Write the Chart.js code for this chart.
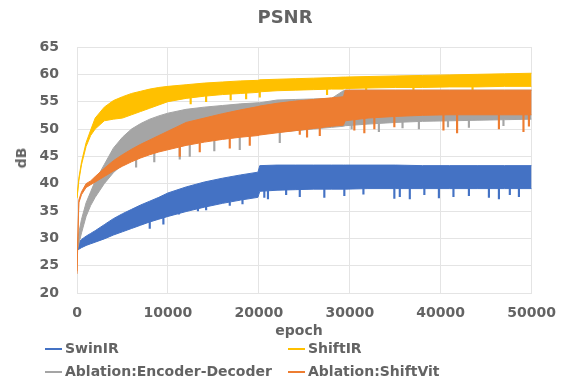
<!DOCTYPE html>
<html>
<head>
<meta charset="utf-8">
<script src="https://cdn.jsdelivr.net/npm/chart.js@4.4.1/dist/chart.umd.min.js"></script>
<style>
  body { margin: 0; background: #fff; }
  #wrap { position: relative; width: 568px; height: 385px; }
  .txt { position: absolute; font: bold 14px "DejaVu Sans", sans-serif; color: #636363; white-space: nowrap; line-height: 16px; }
  .leg span { display: inline-block; width: 17px; height: 1.5px; vertical-align: middle; margin-right: 3px; }
</style>
</head>
<body>
<div id="wrap">
  <canvas id="grafico" width="568" height="385"></canvas>
  <div class="txt" style="left:0; width:568px; top:7px; text-align:center; font-size:18px; line-height:20px; padding-left:2px; box-sizing:border-box">PSNR</div>
  <div class="txt" style="left:21px; top:158px; transform: translate(-50%,-50%) rotate(-90deg)">dB</div>
  <div class="txt" style="left:299px; top:330px; transform: translate(-50%,-50%)">epoch</div>
  <div class="txt leg" style="left:45px; top:340px"><span style="background:#4472C4"></span>SwinIR</div>
  <div class="txt leg" style="left:288px; top:340px"><span style="background:#FFC000"></span>ShiftIR</div>
  <div class="txt leg" style="left:45px; top:363px"><span style="background:#A5A5A5"></span>Ablation:Encoder-Decoder</div>
  <div class="txt leg" style="left:288px; top:363px"><span style="background:#ED7D31"></span>Ablation:ShiftVit</div>
</div>
<script>
// dados
let epocas = [0, 200, 500, 1000, 1500, 2000, 3000, 4000, 5000, 6000, 7000, 8000, 9000, 10000,
  12000, 14000, 16000, 18000, 19900, 20100, 22000, 24000, 26000, 28000, 29300, 29500,
  32000, 35000, 38000, 41000, 44000, 47000, 50000];

// SwinIR
let swinAlto = [28.5, 29.3, 29.8, 30.4, 30.9, 31.4, 32.5, 33.6, 34.5, 35.3, 36.1, 36.8, 37.5, 38.3,
  39.4, 40.3, 41, 41.6, 42.1, 43.3, 43.4, 43.4, 43.4, 43.4, 43.4, 43.4,
  43.4, 43.4, 43.3, 43.3, 43.3, 43.3, 43.3];
let swinBaixo = [27.8, 28, 28.3, 28.7, 29, 29.3, 29.9, 30.6, 31.2, 31.8, 32.4, 33, 33.5, 34,
  34.9, 35.7, 36.4, 37, 37.5, 38.6, 38.8, 38.9, 39, 39, 39, 39,
  39.1, 39.1, 39.1, 39.1, 39.1, 39.1, 39.1];
let swinPicos = [[8000, 31.8, 33], [9500, 32.6, 33.8], [11200, 34.4, 34.6], [13300, 35, 35.6], [14200, 35.2, 35.8],
  [16800, 36, 36.6], [18200, 36.3, 37.1], [20600, 37.5, 38.7], [21000, 37.2, 38.7], [23000, 38, 38.9],
  [24500, 37.6, 38.9], [27200, 37.5, 39], [29400, 37.8, 39], [31500, 38.1, 39.1], [34900, 37.3, 39.1],
  [35500, 37.6, 39.1], [36600, 37.2, 39.1], [38200, 38, 39.1], [39800, 37.4, 39.1], [41400, 37.6, 39.1],
  [43100, 37.8, 39.1], [45300, 37.5, 39.1], [46400, 37.2, 39.1], [47600, 38, 39.1], [48600, 37.6, 39.1]];

// ShiftIR
let shiftAlto = [37.5, 41, 44, 47.5, 49.8, 52, 54, 55.2, 55.9, 56.5, 56.9, 57.3, 57.6, 57.8,
  58.1, 58.4, 58.6, 58.8, 58.9, 59, 59.1, 59.2, 59.3, 59.4, 59.5, 59.5,
  59.6, 59.7, 59.8, 59.9, 60, 60.1, 60.2];
let shiftBaixo = [37.3, 40.5, 43.5, 46.8, 48.8, 50, 51.5, 51.8, 52, 52.6, 53.2, 53.8, 54.4, 55,
  55.6, 56, 56.3, 56.5, 56.7, 56.8, 57, 57.1, 57.2, 57.3, 57.3, 57.4,
  57.5, 57.6, 57.6, 57.7, 57.7, 57.8, 57.8];
let shiftPicos = [[12500, 54.6, 55.7], [14200, 55, 56], [16900, 55.3, 56.4], [18600, 55.5, 56.6],
  [20100, 55.8, 56.8], [27500, 56.3, 57.3], [31800, 56.6, 57.5], [37000, 56.8, 57.6], [43500, 56.9, 57.7]];

// Ablation:Encoder-Decoder
let encAlto = [28.5, 31, 33.5, 36.5, 38.5, 40.5, 43.5, 46.5, 48.5, 50, 51, 51.8, 52.4, 52.9,
  53.6, 54, 54.3, 54.6, 54.8, 54.8, 55.3, 55.4, 55.5, 55.6, 57, 57.1,
  57.1, 57.1, 57.1, 57.1, 57.1, 57.1, 57.1];
let encBaixo = [27.5, 29, 31, 34, 36, 37.5, 40, 42, 43.5, 44.8, 45.6, 46.3, 46.8, 47.3,
  47.8, 48.2, 48.5, 48.8, 49, 49.1, 49.4, 49.7, 50, 50.3, 50.5, 50.6,
  50.9, 51.2, 51.4, 51.5, 51.6, 51.7, 51.8];
let encPicos = [[6500, 43, 45], [8500, 44, 46.5], [11300, 44.5, 47.5], [12400, 45, 47.8], [15100, 46, 48.3],
  [17900, 46.2, 48.7], [22300, 47.5, 49.4], [30200, 50, 50.8], [33200, 49.5, 51], [35800, 50.2, 51.2],
  [37600, 50, 51.3], [40800, 50.4, 51.5], [43100, 50.3, 51.6], [46900, 50.6, 51.7]];

// Ablation:ShiftVit
let vitAlto = [24, 37, 38.5, 40, 40.5, 41.3, 42.8, 44.2, 45.3, 46.3, 47.2, 48, 48.8, 49.6,
  51.2, 52, 52.8, 53.5, 54.1, 54.2, 54.7, 55.1, 55.4, 55.7, 55.9, 57.1,
  57.1, 57.1, 57.1, 57.1, 57.1, 57.1, 57.1];
let vitBaixo = [23.5, 36.5, 38, 39.3, 39.8, 40.3, 41.3, 42.3, 43.2, 44, 44.7, 45.3, 45.8, 46.2,
  47, 47.6, 48.1, 48.5, 48.8, 48.9, 49.3, 49.7, 50.1, 50.5, 50.7, 51.5,
  52, 52.3, 52.5, 52.6, 52.6, 52.6, 52.6];
let vitPicos = [[11300, 45, 46.8], [13500, 45.8, 47.4], [16800, 46.5, 48.2], [19000, 47, 48.7],
  [24500, 49, 49.8], [25300, 48.5, 49.9], [26700, 48.8, 50.2], [30500, 49.8, 51.7], [31600, 49.3, 51.9],
  [32700, 50, 52], [34900, 50.4, 52.2], [40300, 49.8, 52.5], [41800, 49.3, 52.5], [46400, 50, 52.6],
  [49100, 49.5, 52.6], [49700, 50.5, 52.6]];

let rotulosX = [0, 10000, 20000, 30000, 40000, 50000];

function pontos(valores) {
  return epocas.map((e, i) => ({ x: e, y: valores[i] }));
}

function picos(lista) {
  return lista.map(p => ({ x: p[0], y: [p[1], p[2]] }));
}

// faixa = borda de cima, borda de baixo (preenchida) e os picos para baixo
function faixa(cor, alto, baixo, lista, ordem, idx) {
  return [
    { type: "line", data: pontos(alto), borderColor: cor, borderWidth: 1, pointRadius: 0,
      tension: 0, fill: false, order: ordem },
    { type: "line", data: pontos(baixo), borderColor: cor, borderWidth: 1, pointRadius: 0,
      tension: 0, fill: idx, backgroundColor: cor, order: ordem },
    { type: "bar", data: picos(lista), backgroundColor: cor, barThickness: 1.5, grouped: false, order: ordem }
  ];
}

const texto = "#636363";
const grade = "#e4e4e4";
const fonte = { family: "'DejaVu Sans', sans-serif", weight: "bold", size: 14 };

let grafico = new Chart(document.getElementById("grafico").getContext("2d"), {
  type: "line",
  data: {
    datasets: [
      ...faixa("#4472C4", swinAlto, swinBaixo, swinPicos, 40, 0),
      ...faixa("#FFC000", shiftAlto, shiftBaixo, shiftPicos, 30, 3),
      ...faixa("#A5A5A5", encAlto, encBaixo, encPicos, 20, 6),
      ...faixa("#ED7D31", vitAlto, vitBaixo, vitPicos, 10, 9)
    ]
  },
  options: {
    responsive: false,
    animation: false,
    layout: { padding: { left: 0, right: 35, top: 47, bottom: 47 } },
    plugins: {
      legend: { display: false },
      tooltip: { enabled: false }
    },
    scales: {
      x: {
        type: "linear", min: 0, max: 50000, offset: false,
        afterBuildTicks: s => { s.ticks = rotulosX.map(v => ({ value: v })); },
        afterFit: s => { s.height = 45; },
        ticks: { color: texto, font: fonte, padding: 12, maxRotation: 0, callback: v => String(v) },
        grid: { color: grade, drawTicks: false, offset: false },
        border: { color: grade }
      },
      y: {
        min: 20, max: 65,
        afterFit: s => { s.width = 77; },
        ticks: { stepSize: 5, color: texto, font: fonte, padding: 18 },
        grid: { color: grade, drawTicks: false },
        border: { color: grade }
      }
    }
  }
});
</script>
</body>
</html>
